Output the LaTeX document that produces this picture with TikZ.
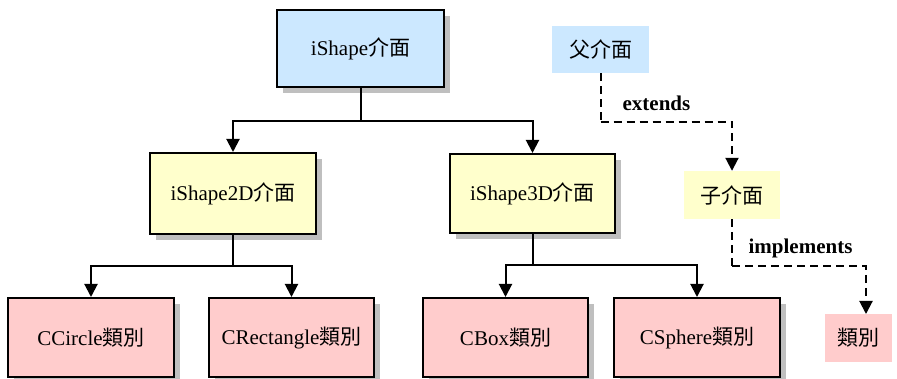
\documentclass[tikz,border=0pt]{standalone}
\usepackage{fontspec}
\setmainfont{Liberation Serif}
\newfontfamily\cjk{Noto Sans CJK TC}
\usetikzlibrary{arrows.meta,shadows,positioning}
\definecolor{cblue}{RGB}{204,232,255}
\definecolor{cyellow}{RGB}{255,255,204}
\definecolor{cpink}{RGB}{255,204,204}
\begin{document}
\begin{tikzpicture}[x=1pt,y=1pt,
  every node/.style={font=\fontsize{21}{25}\selectfont, inner sep=0pt},
  boxbase/.style={draw=black, line width=2pt, drop shadow={shadow xshift=6pt,shadow yshift=-6pt,fill=black!25,opacity=1}},
  bluebox/.style={boxbase, fill=cblue},
  yelbox/.style={boxbase, fill=cyellow},
  pinkbox/.style={boxbase, fill=cpink},
  legbox/.style={draw=none},
  conn/.style={line width=2pt},
  arr/.style={conn, -{Triangle[width=13pt,length=13pt]}},
  dsh/.style={line width=2pt, dash pattern=on 8pt off 5pt},
  darr/.style={dsh, -{Triangle[width=13pt,length=13pt]}},
  lbl/.style={font=\fontsize{21}{25}\selectfont\bfseries}
]
\useasboundingbox (0,0) rectangle (897,-379);
% main tree
\node[bluebox, minimum width=167pt, minimum height=77pt] (top) at (360.5,-48.5) {iShape{\cjk 介面}};
\node[yelbox, minimum width=166pt, minimum height=81pt] (s2d) at (233,-193.5) {iShape2D{\cjk 介面}};
\node[yelbox, minimum width=165pt, minimum height=79pt] (s3d) at (532.5,-193.5) {iShape3D{\cjk 介面}};
\node[pinkbox, minimum width=166pt, minimum height=79pt] (circ) at (91,-337.5) {CCircle{\cjk 類別}};
\node[pinkbox, minimum width=165pt, minimum height=79pt] (rect) at (291.5,-337.5) {CRectangle{\cjk 類別}};
\node[pinkbox, minimum width=165pt, minimum height=79pt] (cbox) at (505.5,-337.5) {CBox{\cjk 類別}};
\node[pinkbox, minimum width=166pt, minimum height=79pt] (sph) at (697,-337.5) {CSphere{\cjk 類別}};
% junctions
\coordinate (j1) at (360.5,-121);
\coordinate (j2) at (233,-266);
\coordinate (j3) at (532.5,-265);
\draw[conn] (top) -- (j1);
\draw[arr] (j1) -| (s2d);
\draw[arr] (j1) -| (s3d);
\draw[conn] (s2d) -- (j2);
\draw[arr] (j2) -| (circ);
\draw[arr] (j2) -| (rect);
\draw[conn] (s3d) -- (j3);
\draw[arr] (j3) -| (cbox);
\draw[arr] (j3) -| (sph);
% legend
\node[legbox, fill=cblue, minimum width=97pt, minimum height=47pt] (l1) at (600.5,-49.5) {{\cjk 父介面}};
\node[legbox, fill=cyellow, minimum width=96pt, minimum height=48pt] (l2) at (732,-195) {{\cjk 子介面}};
\node[legbox, fill=cpink, minimum width=67pt, minimum height=48pt] (l3) at (858.5,-338) {{\cjk 類別}};
\coordinate (d1) at (600.5,-122);
\coordinate (d2) at (732,-266);
\coordinate (t3) at (866,-314);
\draw[dsh] (l1) -- (d1);
\draw[darr] (d1) -| (l2);
\draw[dsh] (l2) -- (d2);
\draw[darr] (d2) -| (t3);
\node[lbl] (ext) at (656.5,-103) {extends};
\node[lbl] (imp) at (800.5,-248) {implements};
\end{tikzpicture}
\end{document}
